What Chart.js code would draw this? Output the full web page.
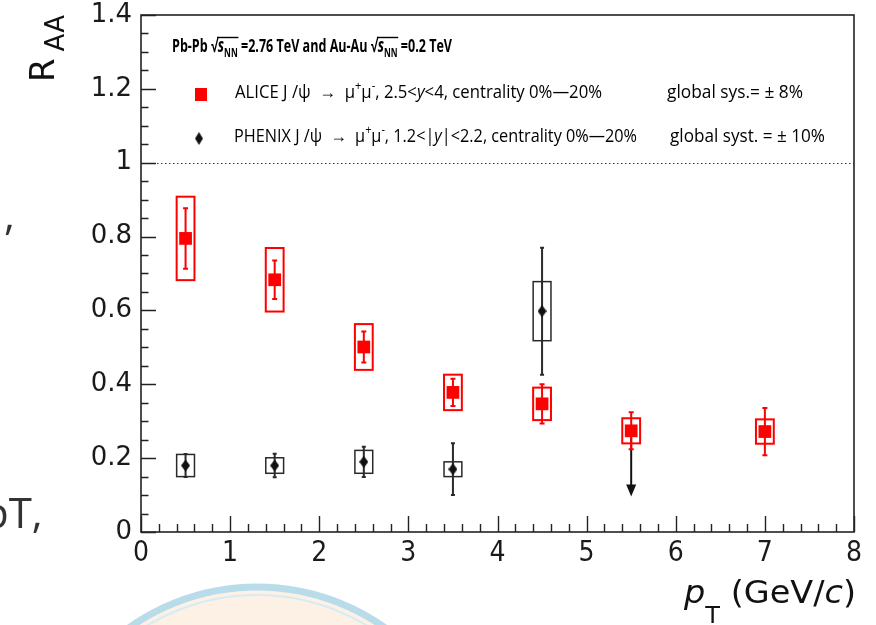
<!DOCTYPE html>
<html>
<head>
<meta charset="utf-8">
<script src="https://cdn.jsdelivr.net/npm/chart.js@4.4.0/dist/chart.umd.min.js"></script>
<style>
  html, body { margin: 0; padding: 0; background: #fff; }
  canvas { display: block; }
</style>
</head>
<body>
<canvas id="raa" width="876" height="625"></canvas>
<script>
// J/psi nuclear modification factor R_AA versus transverse momentum, 0-20% centrality

// ALICE, Pb-Pb 2.76 TeV, forward rapidity
const ptAlice   = [0.5, 1.5, 2.5, 3.5, 4.5, 5.5, 7.0];
const raaAlice  = [0.795, 0.683, 0.501, 0.378, 0.347, 0.274, 0.272];
const statAlice = [0.082, 0.052, 0.042, 0.037, 0.053, 0.050, 0.064];
const sysAlice  = [0.113, 0.086, 0.062, 0.048, 0.044, 0.034, 0.033];

// PHENIX, Au-Au 0.2 TeV, 1.2<|y|<2.2
const ptPhenix   = [0.5, 1.5, 2.5, 3.5, 4.5];
const raaPhenix  = [0.180, 0.180, 0.190, 0.170, 0.598];
const statPhenix = [0.031, 0.032, 0.041, 0.070, 0.172];
const sysPhenix  = [0.030, 0.021, 0.031, 0.020, 0.080];

// PHENIX upper limit
const ptPhenixLimit  = [5.5];
const raaPhenixLimit = [0.28];

// axis ticks
const xTickValues = [0, 1, 2, 3, 4, 5, 6, 7, 8];
const yTickValues = [0, 0.2, 0.4, 0.6, 0.8, 1, 1.2, 1.4];
const referenceLine = 1;

// ---- styling ----
const RED = '#ff0000';
const INK = '#111111';
const BOX_HALF_PT = 0.1;

function diamondImage(w, h, color) {
  const c = document.createElement('canvas');
  c.width = w; c.height = h;
  const g = c.getContext('2d');
  g.fillStyle = color;
  g.beginPath();
  g.moveTo(w / 2, 0); g.lineTo(w, h / 2); g.lineTo(w / 2, h); g.lineTo(0, h / 2);
  g.closePath(); g.fill();
  return c;
}
const diamond = diamondImage(9, 12, INK);

function toPoints(xs, ys) { return xs.map((x, i) => ({ x: x, y: ys[i] })); }

// rich text: list of segments drawn on a common baseline, squeezed to a given width
function richWidth(ctx, segs) {
  let w = 0;
  for (const s of segs) { ctx.font = s.f; w += ctx.measureText(s.t).width; }
  return w;
}
function drawRich(ctx, segs, x, y, targetW, barY) {
  const k = targetW ? targetW / richWidth(ctx, segs) : 1;
  ctx.save();
  ctx.translate(x, y);
  ctx.scale(k, 1);
  let cx = 0;
  let barStart = null;
  for (const s of segs) {
    ctx.font = s.f;
    const w = ctx.measureText(s.t).width;
    if (s.bar && barStart === null) barStart = cx;
    ctx.fillText(s.t, cx, s.dy || 0);
    cx += w;
    if (s.barEnd) {
      ctx.save();
      ctx.lineWidth = 1.4;
      ctx.strokeStyle = ctx.fillStyle;
      ctx.beginPath();
      ctx.moveTo(barStart - 1, barY);
      ctx.lineTo(cx + 1, barY);
      ctx.stroke();
      ctx.restore();
      barStart = null;
    }
  }
  ctx.restore();
}

const LEG = '18px "Open Sans"';
const LEGI = 'italic 18px "Open Sans"';
const LEGS = '12px "Open Sans"';
const TB = 'bold 18px "Open Sans"';
const TBI = 'bold italic 19px "Open Sans"';
const TBS = 'bold 12px "Open Sans"';

const decorPlugin = {
  id: 'decor',
  beforeDatasetsDraw(chart) {
    const { ctx, scales: { x, y }, chartArea: a } = chart;
    ctx.save();

    // dotted reference line
    ctx.strokeStyle = '#333';
    ctx.lineWidth = 1;
    ctx.setLineDash([1.5, 2.5]);
    const yRef = Math.round(y.getPixelForValue(referenceLine)) + 0.5;
    ctx.beginPath();
    ctx.moveTo(a.left, yRef);
    ctx.lineTo(a.right, yRef);
    ctx.stroke();
    ctx.setLineDash([]);

    // systematic boxes and statistical bars
    function series(pts, vals, stat, sys, color, boxW, barW, cap) {
      pts.forEach((pt, i) => {
        const xl = x.getPixelForValue(pt - BOX_HALF_PT);
        const xr = x.getPixelForValue(pt + BOX_HALF_PT);
        const yt = y.getPixelForValue(vals[i] + sys[i]);
        const yb = y.getPixelForValue(vals[i] - sys[i]);
        ctx.strokeStyle = color;
        ctx.lineWidth = boxW;
        ctx.strokeRect(xl, yt, xr - xl, yb - yt);

        const xc = x.getPixelForValue(pt);
        const et = y.getPixelForValue(vals[i] + stat[i]);
        const eb = y.getPixelForValue(vals[i] - stat[i]);
        ctx.lineWidth = barW;
        ctx.beginPath();
        ctx.moveTo(xc, et); ctx.lineTo(xc, eb);
        ctx.moveTo(xc - cap, et); ctx.lineTo(xc + cap, et);
        ctx.moveTo(xc - cap, eb); ctx.lineTo(xc + cap, eb);
        ctx.stroke();
      });
    }
    series(ptPhenix, raaPhenix, statPhenix, sysPhenix, '#2a2a2a', 1.5, 2, 2);

    // PHENIX upper limit arrow
    ptPhenixLimit.forEach((pt, i) => {
      const xc = x.getPixelForValue(pt);
      const y0 = y.getPixelForValue(raaPhenixLimit[i]);
      const y1 = y0 + 68;
      ctx.strokeStyle = INK; ctx.fillStyle = INK; ctx.lineWidth = 2;
      ctx.beginPath(); ctx.moveTo(xc, y0); ctx.lineTo(xc, y1 - 10); ctx.stroke();
      ctx.beginPath();
      ctx.moveTo(xc - 5, y1 - 12); ctx.lineTo(xc + 5, y1 - 12); ctx.lineTo(xc, y1);
      ctx.closePath(); ctx.fill();
    });

    series(ptAlice, raaAlice, statAlice, sysAlice, RED, 2, 2, 2.5);
    ctx.restore();
  },
  afterDraw(chart) {
    const { ctx, scales: { x, y }, chartArea: a } = chart;
    ctx.save();

    // frame
    ctx.strokeStyle = '#222';
    ctx.lineWidth = 1.6;
    ctx.strokeRect(a.left, a.top, a.right - a.left, a.bottom - a.top);

    // inward ticks on the left and bottom axes
    ctx.lineWidth = 1.4;
    ctx.beginPath();
    const yStep = yTickValues[1] - yTickValues[0];
    for (let k = 0; k <= Math.round((y.max - y.min) / (yStep / 4)); k++) {
      const v = y.min + k * yStep / 4;
      const py = Math.round(y.getPixelForValue(v)) + 0.5;
      const len = (k % 4 === 0) ? 15 : 7.5;
      ctx.moveTo(a.left, py); ctx.lineTo(a.left + len, py);
    }
    const xStep = xTickValues[1] - xTickValues[0];
    for (let k = 0; k <= Math.round((x.max - x.min) / (xStep / 5)); k++) {
      const v = x.min + k * xStep / 5;
      const pxv = Math.round(x.getPixelForValue(v)) + 0.5;
      const len = (k % 5 === 0) ? 16 : 8;
      ctx.moveTo(pxv, a.bottom); ctx.lineTo(pxv, a.bottom - len);
    }
    ctx.stroke();

    // axis titles
    ctx.fillStyle = '#111';
    ctx.textBaseline = 'alphabetic';
    ctx.save();
    ctx.translate(54, 82);
    ctx.rotate(-Math.PI / 2);
    ctx.font = '34px "DejaVu Sans"';
    ctx.fillText('R', 0, 0);
    const rW = ctx.measureText('R').width;
    ctx.font = '26px "DejaVu Sans"';
    ctx.fillText('AA', rW + 7, 10);
    ctx.restore();

    drawRich(ctx, [
      { t: 'p', f: 'italic 32px "DejaVu Sans"' },
      { t: 'T', f: '23px "DejaVu Sans"', dy: 20 },
      { t: ' (GeV/', f: '32px "DejaVu Sans"' },
      { t: 'c', f: 'italic 32px "DejaVu Sans"' },
      { t: ')', f: '32px "DejaVu Sans"' }
    ], 684, 603, 172);

    // legend block
    ctx.fillStyle = '#000';
    drawRich(ctx, [
      { t: 'Pb-Pb ', f: TB },
      { t: '\u221A', f: TB },
      { t: 's', f: TBI, bar: true },
      { t: 'NN', f: TBS, dy: 5, barEnd: true },
      { t: ' =2.76 TeV and Au-Au ', f: TB },
      { t: '\u221A', f: TB },
      { t: 's', f: TBI, bar: true },
      { t: 'NN', f: TBS, dy: 5, barEnd: true },
      { t: ' =0.2 TeV', f: TB }
    ], 172, 52, 280, -14.5);

    ctx.fillStyle = RED;
    ctx.fillRect(195, 88, 12, 13);
    ctx.drawImage(diamond, 195, 132, 8, 13);

    ctx.fillStyle = '#000';
    drawRich(ctx, [
      { t: 'ALICE J /\u03C8  \u2192  \u03BC', f: LEG },
      { t: '+', f: LEGS, dy: -8 },
      { t: '\u03BC', f: LEG },
      { t: '-', f: LEGS, dy: -8 },
      { t: ', 2.5<', f: LEG },
      { t: 'y', f: LEGI },
      { t: '<4, centrality 0%\u201420%', f: LEG }
    ], 235, 98, 367);
    drawRich(ctx, [{ t: 'global sys.= \u00B1 8%', f: LEG }], 667, 98, 136);

    drawRich(ctx, [
      { t: 'PHENIX J /\u03C8  \u2192  \u03BC', f: LEG },
      { t: '+', f: LEGS, dy: -8 },
      { t: '\u03BC', f: LEG },
      { t: '-', f: LEGS, dy: -8 },
      { t: ', 1.2<|', f: LEG },
      { t: 'y', f: LEGI },
      { t: '|<2.2, centrality 0%\u201420%', f: LEG }
    ], 234, 142, 403);
    drawRich(ctx, [{ t: 'global syst. = \u00B1 10%', f: LEG }], 670, 142, 155);

    // surrounding slide text and emblem
    ctx.fillStyle = '#333';
    ctx.font = '42px "Open Sans"';
    ctx.fillText(',', 4, 230);
    ctx.fillText('pT,', -17, 528);

    ctx.beginPath();
    ctx.arc(257, 808, 221, 0, Math.PI * 2);
    ctx.fillStyle = '#fdf1e6';
    ctx.fill();
    ctx.lineWidth = 7;
    ctx.strokeStyle = '#b9dcea';
    ctx.stroke();
    ctx.beginPath();
    ctx.arc(257, 808, 213, 0, Math.PI * 2);
    ctx.lineWidth = 2;
    ctx.strokeStyle = '#d6ecf3';
    ctx.stroke();

    ctx.restore();
  }
};

new Chart(document.getElementById('raa'), {
  type: 'scatter',
  data: {
    datasets: [
      {
        label: 'PHENIX',
        data: toPoints(ptPhenix, raaPhenix),
        pointStyle: diamond,
        pointRadius: 6,
        backgroundColor: INK,
        borderWidth: 0
      },
      {
        label: 'ALICE',
        data: toPoints(ptAlice, raaAlice),
        pointStyle: 'rect',
        pointRadius: 9,
        backgroundColor: RED,
        borderColor: RED,
        borderWidth: 0
      }
    ]
  },
  options: {
    responsive: false,
    animation: false,
    events: [],
    layout: { padding: { left: 0, right: 22, top: 15, bottom: 0 } },
    scales: {
      x: {
        type: 'linear',
        min: 0,
        max: 8,
        afterBuildTicks: s => { s.ticks = xTickValues.map(v => ({ value: v })); },
        afterFit: s => { s.height = 93; s.paddingLeft = 0; s.paddingRight = 0; },
        grid: { display: false, drawTicks: false },
        border: { display: false },
        ticks: {
          font: { family: 'DejaVu Sans Condensed', size: 28, lineHeight: 1 },
          color: '#1a1a1a',
          padding: 8,
          maxRotation: 0,
          autoSkip: false,
          callback: v => String(v)
        }
      },
      y: {
        type: 'linear',
        min: 0,
        max: 1.4,
        afterBuildTicks: s => { s.ticks = yTickValues.map(v => ({ value: v })); },
        afterFit: s => { s.width = 141; s.paddingTop = 0; s.paddingBottom = 0; },
        grid: { display: false, drawTicks: false },
        border: { display: false },
        ticks: {
          font: { family: 'DejaVu Sans', size: 26, lineHeight: 1 },
          color: '#1a1a1a',
          padding: 9,
          autoSkip: false,
          callback: v => String(Math.round(v * 10) / 10)
        }
      }
    },
    plugins: { legend: { display: false }, tooltip: { enabled: false } }
  },
  plugins: [decorPlugin]
});
</script>
</body>
</html>
